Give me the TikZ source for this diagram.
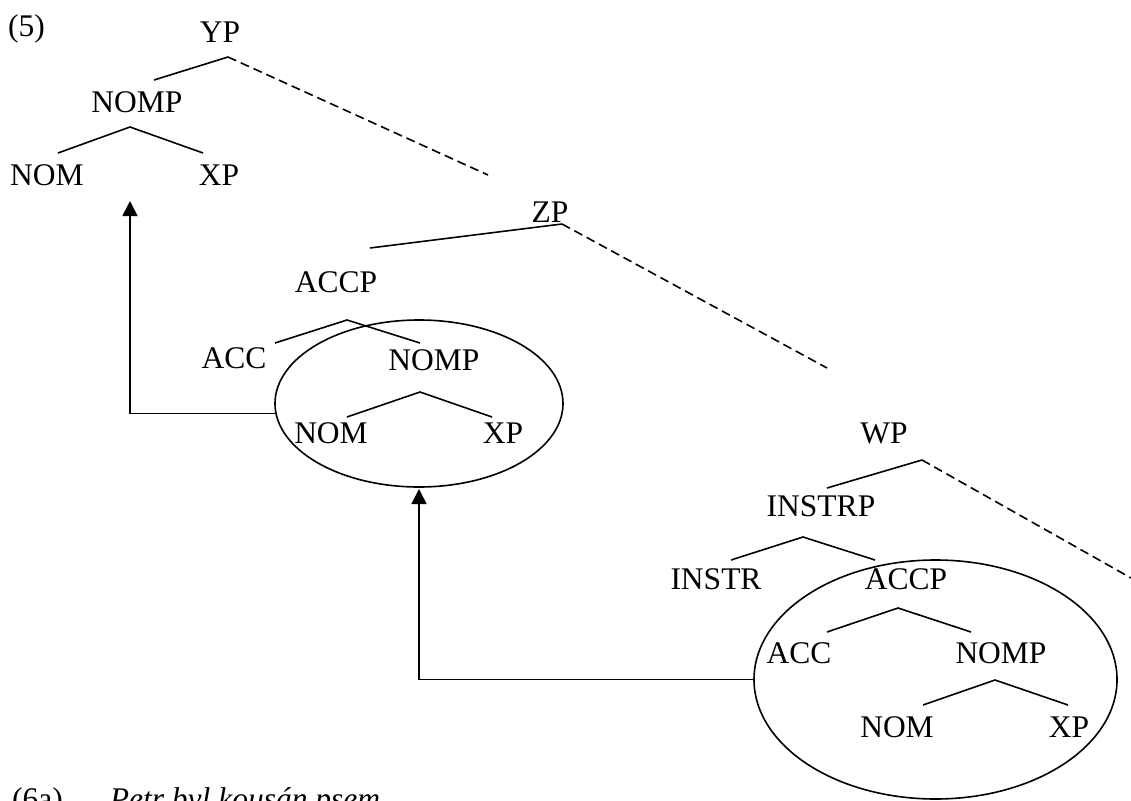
\documentclass[tikz,border=0pt]{standalone}
\usepackage{fontspec}
\setmainfont{Liberation Serif}
\usetikzlibrary{shapes.geometric,arrows.meta}
\begin{document}
\begin{tikzpicture}[x=1pt,y=-1pt,
  lbl/.style={anchor=base,inner sep=0pt,font=\fontsize{31.5}{38}\selectfont},
  br/.style={line width=1.6pt},
  dsh/.style={line width=1.6pt,dash pattern=on 9pt off 5pt},
  ring/.style={draw,ellipse,line width=1.6pt,inner sep=0pt},
  mv/.style={line width=1.6pt,-{Triangle[length=15pt,width=15pt]}}]
\useasboundingbox (0,0) rectangle (1131,800);
% labels
\node[lbl,anchor=base west] (ex5) at (8,37) {(5)};
\node[lbl] (yp) at (220,43) {YP};
\node[lbl] (nompa) at (137,112) {NOMP};
\node[lbl] (noma) at (47,185) {NOM};
\node[lbl] (xpa) at (219,185) {XP};
\node[lbl] (zp) at (550,222) {ZP};
\node[lbl] (accpa) at (336,292) {ACCP};
\node[lbl] (acca) at (234,368) {ACC};
\node[lbl] (nompb) at (434,370) {NOMP};
\node[lbl] (nomb) at (331,443) {NOM};
\node[lbl] (xpb) at (503,443) {XP};
\node[lbl] (wp) at (884,443) {WP};
\node[lbl] (instrp) at (821,516) {INSTRP};
\node[lbl] (instr) at (716,589) {INSTR};
\node[lbl] (accpb) at (906,589) {ACCP};
\node[lbl] (accb) at (799,663) {ACC};
\node[lbl] (nompc) at (1001,663) {NOMP};
\node[lbl] (nomc) at (897,737) {NOM};
\node[lbl] (xpc) at (1069,737) {XP};
\node[lbl,anchor=base west] (ex6) at (12,809) {(6a)\hspace{47pt}\itshape Petr byl kousán psem};
% branch points
\coordinate (ypA) at (228,57); \coordinate (ypL) at (154,80); \coordinate (ypR) at (488,175);
\coordinate (n1A) at (130,127); \coordinate (n1L) at (58,153); \coordinate (n1R) at (203,153);
\coordinate (zpA) at (562,224); \coordinate (zpL) at (370,248); \coordinate (zpR) at (827,368);
\coordinate (a1A) at (347,320); \coordinate (a1L) at (275,343); \coordinate (a1R) at (420,343);
\coordinate (n2A) at (420,392); \coordinate (n2L) at (347,417); \coordinate (n2R) at (492,417);
\coordinate (wpA) at (922,460); \coordinate (wpL) at (827,488); \coordinate (wpR) at (1131,578);
\coordinate (iA) at (803,537); \coordinate (iL) at (731,560); \coordinate (iR) at (875,560);
\coordinate (a2A) at (898,608); \coordinate (a2L) at (827,632); \coordinate (a2R) at (971,632);
\coordinate (n3A) at (995,680); \coordinate (n3L) at (923,705); \coordinate (n3R) at (1068,705);
\draw[br] (ypL) -- (ypA); \draw[dsh] (ypA) -- (ypR);
\draw[br] (n1L) -- (n1A) -- (n1R);
\draw[br] (zpL) -- (zpA); \draw[dsh] (zpA) -- (zpR);
\draw[br] (a1L) -- (a1A) -- (a1R);
\draw[br] (n2L) -- (n2A) -- (n2R);
\draw[br] (wpL) -- (wpA); \draw[dsh] (wpA) -- (wpR);
\draw[br] (iL) -- (iA) -- (iR);
\draw[br] (a2L) -- (a2A) -- (a2R);
\draw[br] (n3L) -- (n3A) -- (n3R);
% ellipses
\node[ring,minimum width=288pt,minimum height=167pt] (e1) at (419,403.5) {};
\node[ring,minimum width=363pt,minimum height=239pt] (e2) at (935.5,679.5) {};
% movement arrows
\coordinate (t1) at (130,201);
\coordinate (t2) at (419,489);
\draw[mv] (e1.184) -| (t1);
\draw[mv] (e2.180) -| (t2);
\end{tikzpicture}
\end{document}
